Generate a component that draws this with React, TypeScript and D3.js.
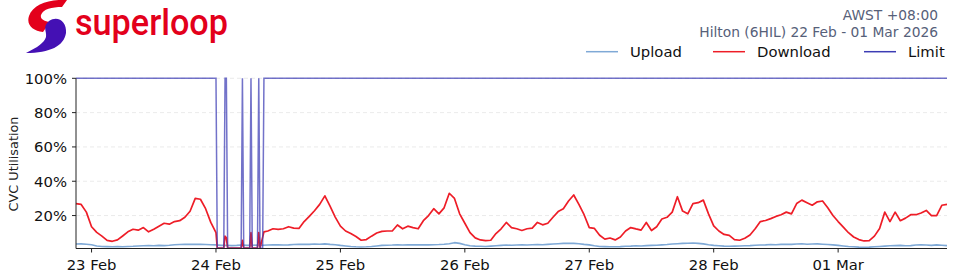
import React from "react";
import * as d3 from "d3";

// ---- data (hourly samples starting 22 Feb 2026 21:00 AWST) ----
// download, hours 0..27
const downloadBefore: number[] = [
  27, 26.5, 22, 13.5, 10.2, 8, 5.5, 5, 5.8, 8.1,
  10.5, 12, 11.5, 13, 10.5, 12, 13.8, 15.5, 15, 16.5,
  17, 19, 22.5, 30, 29.5, 24, 16, 10,
];
// download during the limit outage (irregular samples)
const outageHours: number[] = [
  27.25, 28.5, 28.75, 29.0, 29.25, 31.85, 32.1, 32.35, 33.5, 33.75, 34.0, 35.0, 35.25, 35.5, 36.25,
];
const outageDownload: number[] = [1, 1, 8, 7, 1, 1, 5.5, 1, 1, 10, 1, 1, 10, 1, 10.5];
// download, hours 37..168
const downloadAfter: number[] = [
  11, 12.3, 12, 12.3, 13.5, 12.7, 12.5, 16.5, 19.5, 22.8,
  26.5, 31.5, 25.5, 19.1, 13.8, 11, 9.5, 7.8, 5.6, 6,
  8, 9.8, 10.8, 11, 11, 14.5, 12.3, 13.8, 13, 12.3, 17, 20,
  24, 21, 24.5, 33, 30, 21, 15.5, 10, 7, 5.8,
  5.4, 5.6, 9.5, 12.3, 16, 13, 12.3, 11.3, 12.3, 12.7,
  16, 14.6, 15.5, 19, 22.3, 24, 28.5, 32, 26.5, 20.5,
  13, 12.5, 8.5, 6.3, 6.9, 5.8, 7.5, 11, 13, 12.2,
  11.5, 16, 11.3, 13.5, 18, 19, 22, 31, 22.6, 21,
  27, 27.5, 29, 21, 14, 11, 9, 8.5, 6, 5.6,
  6.8, 8.7, 12.3, 16.5, 17.1, 18.2, 19.5, 20.5,
  22, 21, 27, 29, 27.5, 26, 28, 28.5, 24.5, 20,
  16.5, 13.3, 10, 7.5, 6, 5.2, 5.4, 8, 12.5, 22,
  16.5, 22, 17, 18.5, 20.5, 20.5, 21.5, 23, 20, 20, 26, 26.5,
];

// upload, hours 0..168
const uploadValues: number[] = [
  3.4, 3.5, 3.3, 3.0,
  2.3, 2.0, 1.9, 1.8, 1.9, 1.8, 2.0, 2.1, 2.3,
  2.4, 2.5, 2.4, 2.6, 2.5, 2.7, 3.0, 3.1, 3.2, 3.2,
  3.3, 3.2, 3.1, 3.0, 2.9,
  2.6, 2.7, 2.5, 2.6, 2.8, 2.6, 2.7, 2.8, 2.7,
  2.8, 2.9, 3.0, 2.8, 2.9, 3.1, 3.2, 3.3, 3.2, 3.4, 3.3, 3.5, 3.2, 3.0,
  2.6, 2.3, 2.0, 1.8, 1.7, 1.8, 2.0, 2.3,
  2.6, 2.7, 2.8, 3.0, 2.8, 2.9, 3.0, 2.9, 3.0, 2.9,
  3.0, 3.1, 3.3, 3.6, 4.2, 3.8, 3.0,
  2.4, 2.2, 2.1, 2.0, 2.2, 2.4, 2.6, 2.8, 2.7, 2.8,
  2.9, 2.8, 3.0, 3.1, 3.0, 3.2, 3.4, 3.6, 3.8, 3.9, 3.8, 3.6, 3.2, 2.9,
  2.4, 2.0, 1.9, 1.8, 1.8, 1.9, 2.1, 2.2, 2.4, 2.3, 2.5,
  2.6, 2.7, 2.9, 3.1, 3.4, 3.6, 3.8, 3.9, 4.0, 3.8, 3.5, 3.0,
  2.6, 2.4, 2.2, 2.1, 2.2, 2.3, 2.4, 2.5, 2.7, 2.8, 2.9, 3.1, 3.0,
  3.2, 3.3, 3.2, 3.4, 3.6, 3.3, 3.4, 3.5, 3.3, 3.1, 2.9,
  2.6, 2.3, 2.0, 1.8, 1.6, 1.5, 1.6, 1.8, 2.0,
  2.2, 2.4, 2.5, 2.6, 2.4, 2.5, 2.8, 3.0, 2.8, 2.6, 2.9, 2.7, 2.5,
];

// limit samples: hours since start, and value
const limitHours: number[] = [
  0, 27.0, 27.25, 28.5, 28.75, 29.0, 29.25, 31.85, 32.1, 32.35,
  33.5, 33.75, 34.0, 35.0, 35.25, 35.5, 36.0, 36.25, 168,
];
const limitValues: number[] = [
  100, 100, 1, 1, 100, 100, 1, 1, 100, 1,
  1, 100, 1, 1, 100, 1, 1, 100, 100,
];

const yTicks: number[] = [20, 40, 60, 80, 100];
const legendItems: string[] = ["Upload", "Download", "Limit"];
const titleLines: string[] = ["AWST +08:00", "Hilton (6HIL) 22 Feb - 01 Mar 2026"];
const yLabel = "CVC Utilisation";

const START = Date.UTC(2026, 1, 22, 13); // 22 Feb 21:00 AWST = 13:00 UTC
const HOUR = 3600e3;
const TZ = 8 * HOUR;

const COLORS = { upload: "#7fa9d6", download: "#ee1d27", limit: "#3c3cb4" };
const FONT = "'DejaVu Sans', sans-serif";

type Pt = [number, number];

export default function App() {
  const left = 76, right = 947, top = 78.3, bottom = 248.5;
  const x = d3
    .scaleUtc()
    .domain([new Date(START), new Date(START + 168 * HOUR)])
    .range([left, right]);
  const y = d3.scaleLinear().domain([0.8, 100]).range([bottom, top]);

  const hourDate = (h: number) => new Date(START + h * HOUR);
  const line = d3
    .line<Pt>()
    .x((d) => x(hourDate(d[0])))
    .y((d) => y(d[1]));

  const downloadPts: Pt[] = [
    ...downloadBefore.map((v, i) => [i, v] as Pt),
    ...outageHours.map((h, i) => [h, outageDownload[i]] as Pt),
    ...downloadAfter.map((v, i) => [37 + i, v] as Pt),
  ];
  const uploadPts: Pt[] = uploadValues.map((v, i) => [i, v] as Pt);
  const limitPts: Pt[] = limitHours.map((h, i) => [h, limitValues[i]] as Pt);

  // day ticks at local midnight (AWST)
  const dayTicks = d3
    .utcDay.range(new Date(START + TZ), new Date(START + 168 * HOUR + TZ))
    .map((d) => new Date(+d - TZ))
    .filter((d) => +d > START);
  const fmt = d3.utcFormat("%d %b");

  const legendX = [586, 713, 864];
  const legendColors = [COLORS.upload, COLORS.download, COLORS.limit];

  return (
    <svg
      width={960}
      height={280}
      style={{ position: "absolute", left: 0, top: 0, background: "#fff" }}
      fontFamily={FONT}
    >
      {/* logo */}
      <g>
        <path
          d="M67,0 C50,-1 33,4 29,16 C26,25 33,31 43,32 L50,22 C44,21 40,19 41,15 C43,9 52,7 62,7 Z"
          fill="#e3001b"
        />
        <path
          d="M49,21 C58,15 67,22 66,33 C64,46 50,53 26,53 C38,47 44,43 46,37 C47,31 42,27 49,21 Z"
          fill="#4410b4"
        />
        <text
          x={75}
          y={35}
          fontFamily="Roboto, sans-serif"
          fontWeight={500}
          fontSize={36}
          fill="#e3001b"
          textLength={153}
          lengthAdjust="spacingAndGlyphs"
        >
          superloop
        </text>
      </g>

      {/* title */}
      {titleLines.map((t, i) => (
        <text
          key={t}
          x={938}
          y={19.5 + i * 17.3}
          textAnchor="end"
          fontSize={13.8}
          fill="#566079"
        >
          {t}
        </text>
      ))}

      {/* legend */}
      {legendItems.map((name, i) => (
        <g key={name}>
          <line
            x1={legendX[i]}
            x2={legendX[i] + 32}
            y1={51.7}
            y2={51.7}
            stroke={legendColors[i]}
            strokeWidth={1.5}
          />
          <text x={legendX[i] + 44} y={56.5} fontSize={14.8} fill="#111">
            {name}
          </text>
        </g>
      ))}

      {/* grid */}
      {yTicks.map((t) => (
        <line
          key={t}
          x1={left}
          x2={right}
          y1={y(t)}
          y2={y(t)}
          stroke="#e4e4e4"
          strokeDasharray="4,3"
          strokeWidth={0.8}
        />
      ))}

      {/* series */}
      <path
        d={line(uploadPts) || ""}
        fill="none"
        stroke={COLORS.upload}
        strokeWidth={1.6}
        strokeLinejoin="round"
      />
      <path
        d={line(downloadPts) || ""}
        fill="none"
        stroke={COLORS.download}
        strokeWidth={1.7}
        strokeLinejoin="round"
      />
      <path
        d={line(limitPts) || ""}
        fill="none"
        stroke={COLORS.limit}
        strokeWidth={1.5}
        strokeOpacity={0.72}
      />

      {/* axes */}
      <line x1={left} x2={left} y1={top} y2={bottom} stroke="#222" strokeWidth={1} />
      <line x1={left} x2={right} y1={bottom} y2={bottom} stroke="#222" strokeWidth={1} />
      {yTicks.map((t) => (
        <g key={t}>
          <line x1={left - 4} x2={left} y1={y(t)} y2={y(t)} stroke="#222" />
          <text
            x={left - 9}
            y={y(t)}
            dy="0.36em"
            textAnchor="end"
            fontSize={14.8}
            fill="#111"
          >
            {t}%
          </text>
        </g>
      ))}
      {dayTicks.map((d) => (
        <g key={+d}>
          <line x1={x(d)} x2={x(d)} y1={bottom} y2={bottom + 4} stroke="#222" />
          <text x={x(d)} y={269.5} textAnchor="middle" fontSize={14.8} fill="#111">
            {fmt(new Date(+d + TZ))}
          </text>
        </g>
      ))}
      <text
        transform={`translate(18,164) rotate(-90)`}
        textAnchor="middle"
        fontSize={12.8}
        fill="#222"
      >
        {yLabel}
      </text>
    </svg>
  );
}
